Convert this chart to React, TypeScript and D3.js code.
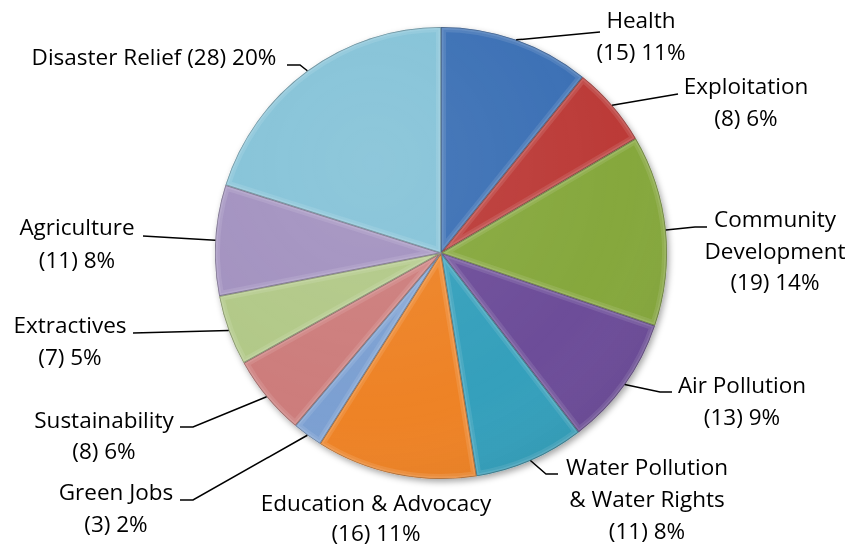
import React from 'react';
import * as d3 from 'd3';

const categories = [
  'Health',
  'Exploitation',
  'Community Development',
  'Air Pollution',
  'Water Pollution & Water Rights',
  'Education & Advocacy',
  'Green Jobs',
  'Sustainability',
  'Extractives',
  'Agriculture',
  'Disaster Relief',
];
const values = [15, 8, 19, 13, 11, 16, 3, 8, 7, 11, 28];
const percentLabels = ['11%', '6%', '14%', '9%', '8%', '11%', '2%', '6%', '5%', '8%', '20%'];
const labelLines = [
  ['Health', '(15) 11%'],
  ['Exploitation', '(8) 6%'],
  ['Community', 'Development', '(19) 14%'],
  ['Air Pollution', '(13) 9%'],
  ['Water Pollution', '& Water Rights', '(11) 8%'],
  ['Education & Advocacy', '(16) 11%'],
  ['Green Jobs', '(3) 2%'],
  ['Sustainability', '(8) 6%'],
  ['Extractives', '(7) 5%'],
  ['Agriculture', '(11) 8%'],
  ['Disaster Relief (28) 20%'],
];
const colors = [
  '#3A6FB5', '#BC3A37', '#86A83D', '#6D4E99', '#35A0BC', '#EE8327',
  '#7CA0D2', '#CD7D7B', '#B2C988', '#A392C0', '#85C3D8',
];

// layout of labels (text centre x, first baseline y, line gap, leader bend points)
const labelLayout = [
  { x: 641, y: 28, gap: 32, pts: [[600, 32]] },
  { x: 746, y: 94, gap: 32, pts: [[678, 94]] },
  { x: 775, y: 227, gap: 31.5, pts: [[695, 227], [707, 227]] },
  { x: 742, y: 393, gap: 32, pts: [[660, 392], [672, 392]] },
  { x: 647, y: 475, gap: 32, pts: [[546, 474], [558, 474]] },
  { x: 376, y: 511, gap: 30, pts: [] },
  { x: 116, y: 500, gap: 32, pts: [[193, 500], [180, 500]] },
  { x: 104, y: 428, gap: 31, pts: [[193, 427], [180, 427]] },
  { x: 70, y: 333, gap: 32, pts: [[133, 333]] },
  { x: 77, y: 235, gap: 33, pts: [[143, 236]] },
  { x: 154, y: 65, gap: 32, pts: [[300, 65], [287, 65]] },
];

const W = 850;
const H = 548;
const cx = 441;
const cy = 253;
const R = 226;

export default function App() {
  const pie = d3.pie<number>().sort(null).value((d) => d)(values);
  const arc = d3.arc<d3.PieArcDatum<number>>().innerRadius(0).outerRadius(R);
  const line = d3.line();

  return (
    <div style={{ position: 'absolute', left: 0, top: 0, width: W, height: H, background: '#fff' }}>
      <svg width={W} height={H} style={{ display: 'block' }}>
        <defs>
          <filter id="shadow" x="-20%" y="-20%" width="140%" height="140%">
            <feDropShadow dx="2" dy="3" stdDeviation="3" floodColor="#000" floodOpacity="0.35" />
          </filter>
          <radialGradient id="shade" cx="0.35" cy="0.3" r="0.8">
            <stop offset="0" stopColor="#fff" stopOpacity="0.08" />
            <stop offset="0.7" stopColor="#fff" stopOpacity="0" />
            <stop offset="1" stopColor="#000" stopOpacity="0.06" />
          </radialGradient>
          {pie.map((d, i) => (
            <clipPath id={`clip${i}`} key={i}>
              <path d={arc(d) as string} transform={`translate(${cx},${cy})`} />
            </clipPath>
          ))}
        </defs>
        <g filter="url(#shadow)">
          {pie.map((d, i) => (
            <path key={i} d={arc(d) as string} transform={`translate(${cx},${cy})`} fill={colors[i]} />
          ))}
        </g>
        {pie.map((d, i) => (
          <g key={`b${i}`} clipPath={`url(#clip${i})`}>
            <path
              d={arc(d) as string}
              transform={`translate(${cx},${cy})`}
              fill="none"
              stroke="#fff"
              strokeOpacity={0.1}
              strokeWidth={10}
              strokeLinejoin="round"
            />
            <path
              d={arc(d) as string}
              transform={`translate(${cx},${cy})`}
              fill="none"
              stroke="#fff"
              strokeOpacity={0.1}
              strokeWidth={5}
              strokeLinejoin="round"
            />
            <path
              d={arc(d) as string}
              transform={`translate(${cx},${cy})`}
              fill="none"
              stroke="#000"
              strokeOpacity={0.3}
              strokeWidth={1.6}
            />
          </g>
        ))}
        <circle cx={cx} cy={cy} r={R} fill="url(#shade)" />
        {pie.map((d, i) => {
          const mid = (d.startAngle + d.endAngle) / 2;
          const sx = cx + R * Math.sin(mid);
          const sy = cy - R * Math.cos(mid);
          const lay = labelLayout[i];
          const pts: [number, number][] = [[sx, sy], ...lay.pts.map((p) => [p[0], p[1]] as [number, number])];
          return (
            <g key={`l${i}`}>
              {lay.pts.length > 0 && (
                <path d={line(pts) as string} fill="none" stroke="#000" strokeWidth={1.5} />
              )}
              <text
                x={lay.x}
                y={lay.y}
                textAnchor="middle"
                fontFamily="'Open Sans', Lato, sans-serif"
                fontSize={22.5}
                fill="#000"
                data-category={categories[i]}
                data-percent={percentLabels[i]}
              >
                {labelLines[i].map((t, j) => (
                  <tspan key={j} x={lay.x} y={lay.y + j * lay.gap}>
                    {t}
                  </tspan>
                ))}
              </text>
            </g>
          );
        })}
      </svg>
    </div>
  );
}
